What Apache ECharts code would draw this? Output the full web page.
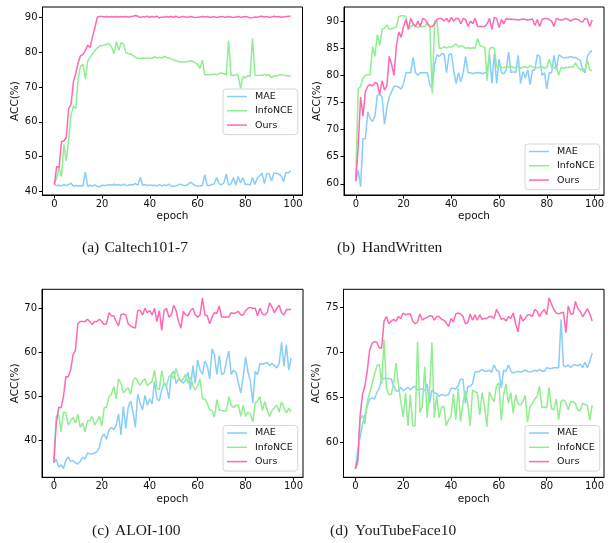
<!DOCTYPE html>
<html>
<head>
<meta charset="utf-8">
<script src="https://cdn.jsdelivr.net/npm/echarts@6/dist/echarts.min.js"></script>
<style>
  html, body { margin: 0; padding: 0; background: #fff; }
  #chart { width: 613px; height: 543px; }
</style>
</head>
<body>
<div id="chart"></div>
<script>
// Training curves: accuracy per epoch for three pre-training methods on four datasets.
const seriesNames = ['MAE', 'InfoNCE', 'Ours'];
const epochTicks = [0, 20, 40, 60, 80, 100];

const caltechTicks = [40, 50, 60, 70, 80, 90];
const handTicks = [60, 65, 70, 75, 80, 85, 90];
const aloiTicks = [40, 50, 60, 70];
const ytfTicks = [60, 65, 70, 75];

// (a) Caltech101-7
const caltechMAE = [
  42, 41.7, 41.8, 41.6, 42, 41.7, 42, 42.4, 41.6, 41.7,
  41.6, 41.7, 41.6, 45.6, 41.5, 41.8, 41.6, 41.9, 41.5, 41.4,
  41.8, 41.7, 41.8, 42, 41.8, 42.1, 41.8, 42, 41.7, 42.1,
  41.7, 41.8, 42, 41.9, 42.3, 41.8, 44, 41.8, 42, 41.7,
  41.9, 41.7, 41.8, 41.6, 42, 41.6, 41.9, 41.7, 42.1, 41.5,
  41.5, 41.6, 42, 42, 41.8, 41.7, 42, 42.7, 42.2, 41.7,
  41.6, 41.6, 41.7, 44.8, 41.8, 41.7, 42, 42.2, 44, 42.2,
  41.9, 42.5, 45, 41.9, 42.2, 44, 41.8, 44.3, 42.5, 44,
  42, 42.1, 41.9, 44, 42, 43.8, 44.5, 45.2, 42.3, 45.2,
  45, 43, 45.3, 45.2, 45, 44.5, 42.8, 45.5, 45.3, 46
];
const caltechInfoNCE = [
  42, 44, 46.8, 44.3, 53.5, 48.8, 55, 62, 64.5, 63.8,
  72.5, 76, 76.5, 72.3, 77.5, 78.5, 79.5, 80.5, 81.2, 81.8,
  81.9, 82, 82.3, 82.5, 81.5, 79.5, 83, 80.5, 82.7, 82.3,
  79.8, 79.6, 79.4, 79, 78.5, 78.3, 78.2, 78.3, 78.2, 78.3,
  78.3, 78.2, 78.7, 78.3, 78.5, 78.2, 78.8, 78.5, 78.3, 78,
  77.8, 77.5, 77.3, 77.2, 77.2, 77.2, 77.3, 77.5, 77.3, 77,
  76.5, 75.3, 77.7, 73.5, 73.5, 73.6, 73.5, 73.7, 73.5, 73.9,
  74, 73.8, 73.4, 83.3, 73.3, 73.3, 73.5, 73.4, 69.5, 73,
  72.6, 73.3, 73, 84, 73.4, 73.3, 73.4, 73.3, 73.6, 73.3,
  73.5, 72.6, 73.2, 73.1, 73.4, 73.6, 73.4, 73.3, 73.2, 73.1
];
const caltechOurs = [
  42, 47.2, 46.8, 54.3, 54.5, 55.5, 63.8, 65, 71.5, 74,
  77, 79, 79.3, 80.5, 82, 81.3, 84.5, 87, 90, 90.2,
  90.2, 90.1, 90.2, 90.1, 90.2, 90, 90.2, 90.1, 90.2, 90.1,
  90.2, 90, 90.2, 90.3, 90.5, 90.3, 89.9, 90.2, 90.1, 90.3,
  90, 90.2, 90.1, 90.3, 89.8, 90.1, 90, 90.2, 90.1, 90.2,
  90, 90.3, 89.9, 90.1, 90.2, 90.1, 90, 90.2, 90.1, 89.9,
  90, 90.1, 90.2, 90.1, 90.2, 90, 90.1, 90.2, 89.9, 90.1,
  90.2, 90.1, 90, 90.2, 90.1, 89.9, 90.1, 90.2, 90, 90.1,
  90.2, 90.1, 89.8, 89.9, 90.1, 90, 90.2, 90.3, 90.1, 90.2,
  90, 90.1, 90.3, 90.1, 90.2, 90, 90.1, 90.2, 90.2, 90.4
];

// (b) HandWritten
const handMAE = [
  60.5, 62.5, 59.5, 68.3, 68.3, 73.3, 72, 71.5, 72.5, 76.3,
  76.5, 76, 71, 74, 76, 77, 78, 78, 77.8, 77.5,
  78.5, 80.5, 80.5, 80.5, 83.3, 80.5, 80, 80.5, 80.5, 80.5,
  80.5, 78.3, 77.5, 82, 83.8, 83.5, 84, 84, 80.5, 83.8,
  84, 81, 78.5, 80.5, 78.8, 80.5, 83.5, 80.5, 80.5, 80.3,
  80.5, 80.5, 80.5, 80.3, 80.5, 80.5, 83.8, 78.5, 84, 78.5,
  83, 80.5, 80.3, 81, 84.3, 80.5, 80.7, 80.5, 83.7, 78.5,
  80.7, 79.5, 81, 78.3, 81, 81, 83.8, 83.5, 80, 80.5,
  77.5, 80.5, 80.5, 83.7, 81, 83.8, 83.5, 83.2, 83.3, 83.3,
  83.5, 83.3, 83.3, 83, 82.8, 81, 80.5, 83.5, 84.3, 84.5
];
const handInfoNCE = [
  61, 77.5, 78, 79.5, 80, 80.1, 80.1, 85.3, 83.5, 87.5,
  85.5, 88.5, 88.7, 89.3, 88.5, 88.6, 88.7, 89, 90.8, 91,
  91, 90.8, 88.5, 89, 89.3, 89, 88.8, 89, 89, 89,
  89.7, 89, 76.7, 90, 90, 85, 85, 85.3, 85, 85.3,
  85.2, 85.5, 85.8, 85.2, 85.5, 85.3, 85, 85.1, 85, 85.1,
  85, 86.8, 85.5, 85.3, 85.2, 79, 84.8, 85.2, 85, 81.5,
  81.7, 81.5, 81.4, 81.6, 81.5, 81.7, 81.4, 81.5, 81.7, 81.3,
  81.5, 81.6, 81.4, 81.8, 81.5, 81.5, 81.4, 81.5, 81.6, 81.3,
  81.5, 83, 81.5, 81.4, 81.5, 80, 81.5, 81.3, 81.5, 81.4,
  81.6, 81.5, 82.3, 81.5, 81, 81.3, 81, 82.7, 81, 80.8
];
const handOurs = [
  60.5, 67, 76, 72.5, 77, 78, 78.3, 78, 78.7, 78.5,
  76.5, 79, 77.3, 78, 83.5, 82, 80, 85.5, 88, 87,
  89, 90.3, 88.5, 90.5, 89.5, 89, 90, 89, 90.5, 90.3,
  89.5, 89, 89, 89.5, 90.3, 90.5, 90.5, 90, 90.5, 89.8,
  90.7, 90, 90.5, 90.5, 89.5, 90.5, 90.3, 89, 90, 89.5,
  90.5, 89, 89, 89, 89, 89.5, 90.5, 88.5, 90.7, 90.5,
  88.8, 90.3, 89.5, 90.5, 90.3, 90.4, 90.3, 90.3, 90.2, 90.3,
  90.4, 90.3, 90.2, 90.3, 90.4, 89.2, 90.3, 89, 90.3, 90.5,
  90.5, 90.3, 90, 89, 90.5, 90.3, 90.2, 90.3, 90.5, 90.3,
  90, 90.3, 90.4, 90.3, 90, 89.8, 90.5, 90.3, 89, 90.2
];

// (c) ALOI-100
const aloiMAE = [
  35, 35.8, 34, 34.5, 33.7, 35.5, 36.3, 35.3, 35.5, 35,
  34.7, 35.3, 36.3, 35.8, 37.2, 37, 37, 37.2, 37.5, 38.5,
  40.8, 41.5, 40.3, 42.5, 43, 42.5, 43.5, 46, 41.3, 47.8,
  42.8, 47.5, 49, 46.5, 43, 50.5, 48.5, 47, 50.3, 48,
  49.5, 48.3, 53.5, 49.5, 49, 51.5, 53, 52.3, 49.5, 55,
  55.8, 53, 54, 53.5, 53, 53.8, 55.5, 51.5, 57, 53,
  58.3, 56, 55, 58, 57, 54, 60.8, 59.5, 55, 59.3,
  55, 55.3, 58, 60.3, 55, 56, 55.5, 53, 50.8, 54.5,
  59, 55.5, 53.5, 48.5, 55.7, 55, 57.5, 57.3, 57.5, 57.7,
  57, 57.5, 57, 56.5, 57.5, 62.3, 56.8, 61.8, 56, 58.7
];
const aloiInfoNCE = [
  35, 45.5, 46, 42, 46.5, 46.3, 43.5, 44.5, 45.3, 44,
  46, 43, 44, 42, 44.5, 44.5, 45.5, 43.5, 44.5, 45.5,
  43.3, 47.5, 47.5, 50, 50.5, 52.3, 49.5, 54, 53, 50.8,
  51.5, 52, 50.5, 53.5, 54.3, 53.5, 52.5, 53.5, 54, 52.5,
  53, 53.5, 56, 52, 51.5, 55.8, 53, 52.5, 54.5, 55,
  54, 56.3, 54.5, 53.5, 54, 55, 53, 54.5, 52.5, 51.5,
  52.5, 54, 49.5, 49.5, 48.5, 47, 46.8, 45.3, 49.3, 47,
  46.8, 46.8, 46.8, 50, 48, 47.5, 48, 48, 45.5, 48,
  45.5, 46.5, 46, 44.3, 48.5, 49, 50, 46.8, 48.8, 47,
  45.5, 46.8, 47.5, 48, 46.5, 48.8, 47.5, 46.3, 47.3, 46.5
];
const aloiOurs = [
  35, 44, 47.5, 47.5, 50, 54.5, 54.5, 56, 59.5, 60.5,
  66.5, 67, 67, 67, 67.5, 67, 66.3, 67, 67, 67.5,
  67, 66.3, 66.5, 69, 68.3, 68.3, 67, 66, 68.5, 68.7,
  68.5, 66.5, 66, 65.7, 65.5, 69.5, 69.5, 68.5, 70, 69,
  69.5, 68.5, 70, 67, 69.5, 65, 69.5, 70, 68, 68.5,
  70.7, 69.5, 67, 65.5, 69.3, 68.5, 68.3, 69.5, 70, 68.5,
  68, 68.5, 72.3, 68.5, 68.3, 66.5, 68, 69, 68.8, 70.5,
  68, 68, 68, 68, 69, 68.8, 69, 69.3, 68.5, 68.5,
  69.5, 70, 70.2, 70, 70, 68.3, 70, 68.7, 68.5, 69,
  71.2, 70.3, 69, 70, 70.7, 69, 68.5, 69.7, 69.7, 69.7
];

// (d) YouTubeFace10
const ytfMAE = [
  57, 59, 60.5, 62, 63, 64, 64.8, 64.9, 64.8, 65.5,
  66, 67, 67.1, 67.1, 67.1, 67, 66.3, 65.7, 65.7, 66.1,
  65.7, 65.9, 66.1, 65.8, 66.1, 66.2, 65.8, 65.9, 65.9, 65.7,
  66.5, 64.3, 65.8, 65.5, 65.4, 65.1, 65.3, 65.2, 65.2, 65.3,
  66, 66, 65.9, 66.3, 67, 67, 64.3, 66.2, 66.2, 66.5,
  67.8, 67.8, 67.9, 68.1, 67.9, 67.9, 68, 67.8, 68.6, 68,
  67.9, 66, 68, 67.9, 68.6, 67.9, 67.7, 67.8, 67.9, 67.8,
  67.9, 68, 67.9, 67.8, 67.9, 68, 67.9, 68.1, 67.9, 67.9,
  68.3, 68.2, 68.2, 68.3, 68.3, 68.3, 73.7, 68.5, 68.4, 68.6,
  68.3, 68.6, 68.6, 68.5, 68.7, 68.3, 68.9, 68.3, 69, 69.9
];
const ytfInfoNCE = [
  57, 57.5, 62.5, 63, 62, 64.5, 65.5, 66.5, 67.5, 68.5,
  68.7, 66.5, 71.4, 66, 65.3, 65.3, 66.5, 68.8, 66.5, 64.5,
  62.8, 65.5, 61.8, 65.3, 61.8, 61.8, 71.2, 63.3, 64, 68.4,
  62.7, 65.6, 71.1, 62.7, 65.2, 62.7, 63.8, 64, 61.8, 62.5,
  62.8, 65.4, 62.5, 66, 62.3, 64.3, 65.7, 64.3, 61.8, 65.8,
  65.6, 65.5, 63, 65.5, 64, 61.7, 65.6, 65, 64.5, 66.3,
  66.6, 62.4, 65.3, 66.5, 64.3, 65.5, 63.2, 65.3, 64.3, 64.1,
  64.5, 65.2, 62.2, 64, 64.3, 64.8, 65.1, 66.2, 63.8, 63.9,
  63.8, 66.1, 63.7, 63.6, 64.8, 62.5, 64.5, 64.7, 64.4, 63.6,
  64.5, 64.5, 64.3, 63.5, 63.5, 64.3, 64.2, 64.1, 62.4, 64.1
];
const ytfOurs = [
  57, 58, 63, 65.3, 66.3, 68, 70.3, 71, 71.2, 71.1,
  70.5, 70.5, 73.5, 74, 73.2, 73.5, 73.7, 73.5, 74, 73.8,
  74.4, 74.2, 74.3, 74.3, 73.5, 73.2, 73.4, 74.3, 73.6, 73.8,
  73.9, 74.1, 74.1, 73.6, 74, 74, 73.7, 73.6, 73.3, 72.9,
  73.8, 73.4, 74.3, 74.4, 74.3, 74, 73.2, 73.3, 74.3, 73.6,
  74.2, 73.6, 74.2, 73.7, 73.8, 73.8, 74, 74, 73.8, 74.8,
  74.3, 73.7, 73.8, 73.5, 74, 73.8, 74.4, 73.2, 72.3, 74.2,
  73.5, 73.8, 74.2, 74.2, 74, 74.8, 74.6, 74, 74.5, 74.8,
  74.2, 76.1, 75.4, 74.8, 74.4, 74.3, 74.4, 74.5, 72.2, 75.2,
  74.3, 74.3, 75.7, 74.9, 74.6, 74, 74.4, 74.9, 74.3, 73.5
];

const panels = [
  { tag: '(a)', title: 'Caltech101-7', ticks: caltechTicks, curves: [caltechMAE, caltechInfoNCE, caltechOurs] },
  { tag: '(b)', title: 'HandWritten', ticks: handTicks, curves: [handMAE, handInfoNCE, handOurs] },
  { tag: '(c)', title: 'ALOI-100', ticks: aloiTicks, curves: [aloiMAE, aloiInfoNCE, aloiOurs] },
  { tag: '(d)', title: 'YouTubeFace10', ticks: ytfTicks, curves: [ytfMAE, ytfInfoNCE, ytfOurs] }
];

// Panel geometry (pixels) and value ranges of each y axis
const frames = [
  { left: 42.5, top: 7, width: 260, height: 188, yMin: 39.0, yMax: 92.95, legendLeft: 223, legendTop: 89, tagX: 82, titleX: 104.5, capY: 248 },
  { left: 344, top: 7, width: 260, height: 188, yMin: 57.95, yMax: 92.6, legendLeft: 525, legendTop: 144, tagX: 337, titleX: 362, capY: 248 },
  { left: 42, top: 289.3, width: 261, height: 188, yMin: 31.7, yMax: 74.3, legendLeft: 223, legendTop: 425.5, tagX: 92, titleX: 115, capY: 531 },
  { left: 343.5, top: 289.3, width: 260.5, height: 188, yMin: 56.05, yMax: 77.05, legendLeft: 525, legendTop: 425.5, tagX: 330, titleX: 355, capY: 531 }
];

const colors = ['#87cefa', '#90ee90', '#ff69b4'];
const sans = 'DejaVu Sans';
const serif = 'Liberation Serif';

const grid = [], xAxis = [], yAxis = [], series = [], legend = [], graphic = [];

panels.forEach((p, i) => {
  const f = frames[i];
  grid.push({
    left: f.left, top: f.top, width: f.width, height: f.height,
    show: true, borderColor: '#000', borderWidth: 1, backgroundColor: 'transparent'
  });
  xAxis.push({
    type: 'value', gridIndex: i, min: -4.95, max: 103.95,
    name: 'epoch', nameLocation: 'middle', nameGap: 16,
    nameTextStyle: { fontFamily: sans, fontSize: 10.5, color: '#111' },
    axisLine: { show: true, onZero: false, lineStyle: { color: '#000', width: 1 } },
    axisTick: { show: true, length: 3.5, lineStyle: { color: '#000' }, customValues: epochTicks },
    axisLabel: { fontFamily: sans, fontSize: 10, color: '#111', margin: 4, customValues: epochTicks },
    splitLine: { show: false }
  });
  yAxis.push({
    type: 'value', gridIndex: i, min: f.yMin, max: f.yMax,
    name: 'ACC(%)', nameLocation: 'middle', nameGap: 15,
    nameTextStyle: { fontFamily: sans, fontSize: 10.5, color: '#111' },
    axisLine: { show: true, onZero: false, lineStyle: { color: '#000', width: 1 } },
    axisTick: { show: true, length: 3.5, lineStyle: { color: '#000' }, customValues: p.ticks },
    axisLabel: { fontFamily: sans, fontSize: 10, color: '#111', margin: 5, customValues: p.ticks },
    splitLine: { show: false }
  });
  p.curves.forEach((vals, k) => {
    series.push({
      type: 'line', name: seriesNames[k], xAxisIndex: i, yAxisIndex: i,
      data: vals.map((v, e) => [e, v]),
      symbol: 'none', showSymbol: false, silent: true,
      color: colors[k],
      lineStyle: { color: colors[k], width: 1.5 },
      z: 2 + k
    });
  });
  legend.push({
    data: seriesNames, orient: 'vertical', left: f.legendLeft, top: f.legendTop,
    icon: 'rect', itemWidth: 20, itemHeight: 1.5, itemGap: 1.3,
    padding: [1, 5, 3, 4],
    backgroundColor: 'rgba(255,255,255,0.85)', borderColor: '#d6d6d6', borderWidth: 1, borderRadius: 3,
    textStyle: { fontFamily: sans, fontSize: 9.5, color: '#111', lineHeight: 13, padding: [0, 0, 0, 3] },
    selectedMode: false
  });
  graphic.push({
    type: 'text', left: f.tagX, top: f.capY - 8,
    style: { text: p.tag, font: '15.5px ' + serif, fill: '#1a1a1a' }
  });
  graphic.push({
    type: 'text', left: f.titleX, top: f.capY - 8,
    style: { text: p.title, font: '15.5px ' + serif, fill: '#1a1a1a' }
  });
});

const chart = echarts.init(document.getElementById('chart'), null, { renderer: 'canvas' });
chart.setOption({
  animation: false,
  backgroundColor: '#fff',
  grid, xAxis, yAxis, series, legend, graphic
});
</script>
</body>
</html>
